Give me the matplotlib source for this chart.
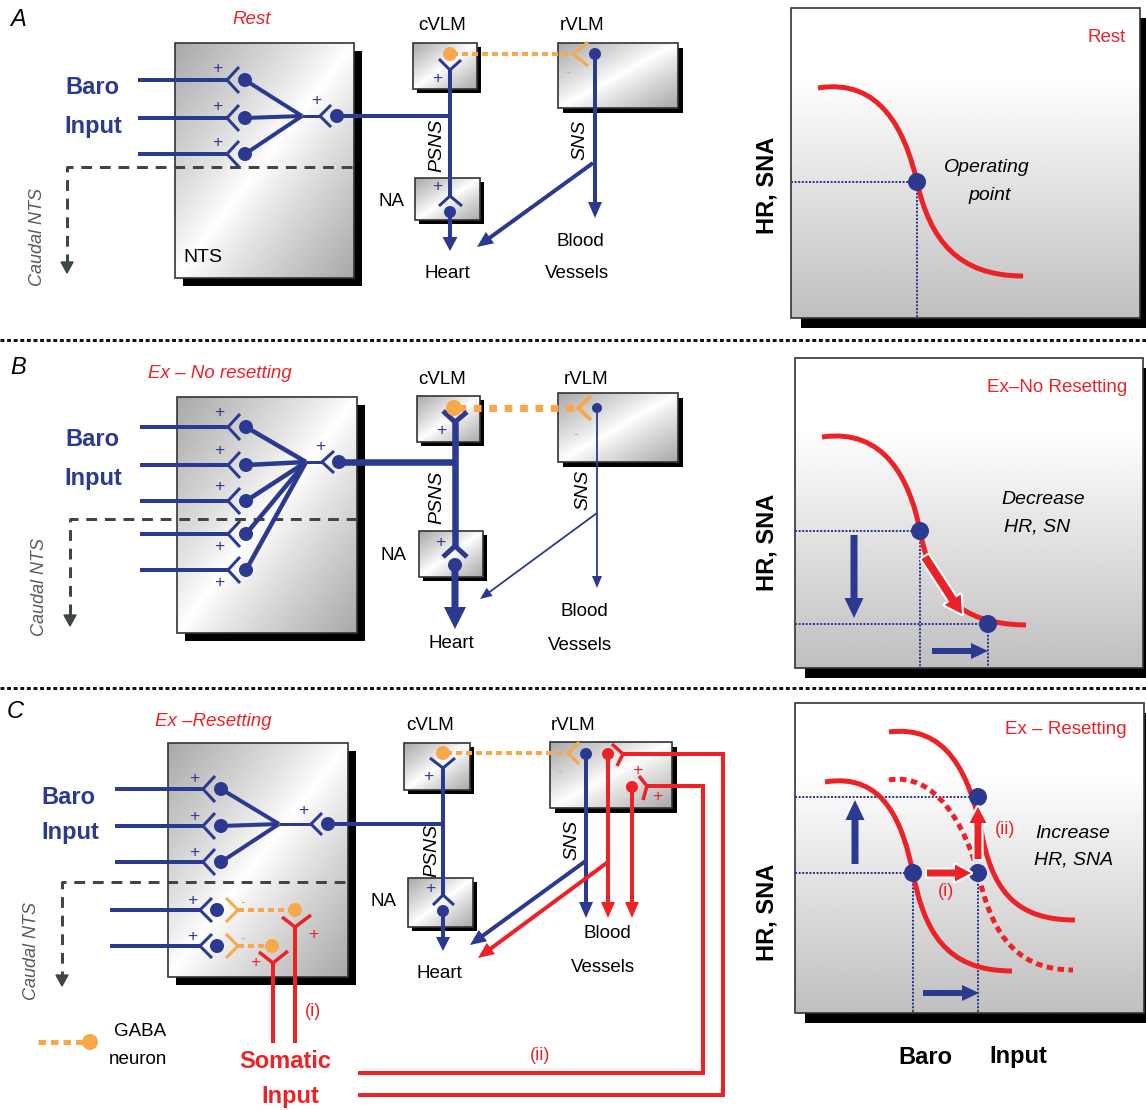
import numpy as np
import matplotlib
matplotlib.use('Agg')
import matplotlib.pyplot as plt
from matplotlib.patches import Rectangle, Circle, FancyArrowPatch, Polygon, PathPatch
from matplotlib.path import Path
import matplotlib.patheffects as pe

# ---------------- data ----------------
panel_letters = ['A', 'B', 'C']
scheme_titles = ['Rest', 'Ex – No resetting', 'Ex –Resetting']
graph_titles = ['Rest', 'Ex–No Resetting', 'Ex – Resetting']
y_label = 'HR, SNA'
x_labels = ['Baro', 'Input']
# baroreflex curves (bezier control points, pixel space of the figure)
curve_rest = [(818, 88), (880, 78), (905, 130), (917, 182), (930, 240), (958, 276), (1023, 276)]
curve_exnr = [(822, 437), (885, 428), (910, 480), (920, 531), (932, 590), (955, 624), (1026, 625)]
curve_c_rest = [(825, 782), (885, 772), (903, 825), (913, 873), (924, 930), (945, 971), (1012, 971)]
curve_c_reset = [(889, 732), (945, 725), (970, 770), (983, 840), (995, 895), (1020, 920), (1075, 920)]
curve_c_dash = [(889, 780), (935, 772), (965, 825), (978, 873), (990, 925), (1010, 970), (1073, 970)]
# operating points
op_rest = [(917, 182)]
op_exnr = [(920, 531), (988, 624)]
op_c = [(913, 873), (978, 873), (978, 797)]

BLUE = '#2b3990'
RED = '#ec2227'
ORANGE = '#f8a84b'
DGRAY = '#3e4747'
TS = 13.5

plt.rcParams['font.family'] = ['Liberation Sans', 'DejaVu Sans']

fig = plt.figure(figsize=(11.46, 11.10), dpi=100)
ax = fig.add_axes([0, 0, 1, 1])
ax.axis('off')


def px(v):
    return v * 0.72


def line(pts, color=BLUE, w=4, ls='-', z=3, cap='butt'):
    xs, ys = zip(*pts)
    ax.plot(xs, ys, color=color, lw=px(w), ls=ls, zorder=z,
            solid_capstyle=cap, dash_capstyle='butt', solid_joinstyle='miter')


def dot(x, y, r=7, color=BLUE, z=4):
    ax.add_patch(Circle((x, y), r, color=color, zorder=z, lw=0))


def syn(tip, a1, a2, color=BLUE, w=3, z=3):
    line([a1, tip, a2], color=color, w=w, z=z)


def grad_box(x0, y0, x1, y1, shadow=8, kind='diag'):
    ax.add_patch(Rectangle((x0 + shadow, y0 + shadow), x1 - x0, y1 - y0,
                           color='black', zorder=1, lw=0))
    n = 200
    X, Y = np.meshgrid(np.linspace(0, 1, n), np.linspace(0, 1, n))
    if kind == 'diag':
        t = (X + Y) / 2
        v = 1 - 0.34 * np.abs(2 * t - 1) ** 0.9
    else:
        v = np.where(Y < 0.22, 1.0, 1 - 0.25 * ((Y - 0.22) / 0.78))
    ax.imshow(v, cmap='gray', vmin=0, vmax=1, extent=(x0, x1, y1, y0),
              origin='upper', aspect='auto', zorder=1.5, interpolation='bilinear')
    ax.add_patch(Rectangle((x0, y0), x1 - x0, y1 - y0, fill=False,
                           ec='#333333', lw=1.2, zorder=2))


def arrow(p0, p1, color=BLUE, tail=4, hw=14, hl=14, outline=False, z=5):
    style = 'simple,tail_width=%f,head_width=%f,head_length=%f' % (px(tail), px(hw), px(hl))
    a = FancyArrowPatch(p0, p1, arrowstyle=style, color=color, lw=0, zorder=z,
                        shrinkA=0, shrinkB=0, mutation_scale=1)
    if outline:
        a.set_path_effects([pe.withStroke(linewidth=3, foreground='white')])
    ax.add_patch(a)


def bez(points, color=RED, w=5, ls='-', z=3):
    codes = [Path.MOVETO] + [Path.CURVE4] * (len(points) - 1)
    ax.add_patch(PathPatch(Path(points, codes), fill=False, ec=color, lw=px(w),
                           ls=ls, zorder=z, capstyle='butt'))


def txt(x, y, s, size=TS, color='black', style='normal', weight='normal', rot=0, ha='center'):
    ax.text(x, y, s, fontsize=size, color=color, style=style, weight=weight,
            rotation=rot, ha=ha, va='center', zorder=7)


def plus(x, y, color=BLUE, size=12.5):
    txt(x, y, '+', size=size, color=color)


def dotted(pts, w=2):
    line(pts, color=BLUE, w=w, ls=(0, (1, 0.8)), z=2.5)


def caudal(xr, y, x, ybot):
    line([(xr, y), (x, y), (x, ybot)], color=DGRAY, w=3, ls=(0, (3.6, 2.6)), z=2.6)
    ax.add_patch(Polygon([(x - 6, ybot), (x + 6, ybot), (x, ybot + 11)], color=DGRAY, zorder=3))


def caudal_label(x, y):
    txt(x, y, 'Caudal NTS', size=13, color='#5a5a5a', style='italic', rot=90)


def orange_dash(p0, p1, w=4):
    line([p0, p1], color=ORANGE, w=w, ls=(0, (1.5, 1)), z=3)


# ---------------- separators ----------------
for ys in (340, 688):
    line([(0, ys), (1146, ys)], color='#111111', w=3, ls=(0, (1.3, 0.9)), z=2)

# ================= Panel A =================
txt(18, 20, panel_letters[0], size=17, style='italic', ha='center')
txt(252, 20, scheme_titles[0], size=TS, color=RED, style='italic')
grad_box(175, 43, 354, 278, shadow=8)
txt(203, 258, 'NTS', size=14)
txt(92, 88, 'Baro', size=17, color=BLUE, weight='bold')
txt(93, 126, 'Input', size=17, color=BLUE, weight='bold')
for y in (80, 118, 154):
    line([(138, y), (227, y)], w=4)
    syn((227, y), (239, y - 13), (239, y + 13), w=3)
    dot(245, y, 7)
    plus(217, y - 11)
    line([(245, y), (302, 116)], w=4)
line([(302, 116), (320, 116)], w=3)
syn((320, 116), (331, 105), (331, 127), w=3)
plus(316, 101)
dot(337, 116, 7)
line([(337, 116), (452, 116)], w=4)
caudal(352, 167, 67, 262)
caudal_label(37, 237)

grad_box(413, 43, 477, 89, shadow=4)
txt(442, 25, 'cVLM')
orange_dash((452, 54), (573, 54), w=4)
dot(450, 54, 7, ORANGE)
syn((573, 54), (588, 42), (588, 66), color=ORANGE, w=3)
txt(568, 72, '-', size=11, color=ORANGE)
syn((450, 70), (439, 59), (461, 60), w=3)
plus(437, 78)
line([(450, 70), (450, 196)], w=4)
grad_box(415, 178, 480, 220, shadow=4)
syn((450, 196), (439, 206), (462, 206), w=3)
plus(437, 187)
dot(450, 212, 6)
arrow((450, 212), (450, 251), tail=4, hw=15, hl=14)
txt(392, 202, 'NA')
txt(447, 273, 'Heart')
txt(437, 145, 'PSNS', size=14, style='italic', rot=90)

grad_box(558, 43, 678, 108, shadow=5)
txt(582, 25, 'rVLM')
dot(595, 54, 6)
arrow((595, 54), (595, 218), tail=4, hw=14, hl=16)
arrow((593, 163), (477, 247), tail=4, hw=14, hl=16)
txt(580, 140, 'SNS', size=14, style='italic', rot=90)
txt(580, 241, 'Blood')
txt(577, 273, 'Vessels')

# graph A
grad_box(791, 8, 1140, 318, shadow=10, kind='vert')
bez(curve_rest, w=5)
x, y = op_rest[0]
dotted([(791, y), (x, y)])
dotted([(x, y), (x, 318)])
dot(x, y, 9)
txt(1107, 38, graph_titles[0], size=TS, color=RED)
txt(767, 185, y_label, size=17, weight='bold', rot=90)
txt(987, 168, 'Operating', size=14, style='italic')
txt(990, 195, 'point', size=14, style='italic')

# ================= Panel B =================
txt(18, 368, panel_letters[1], size=17, style='italic')
txt(220, 373, scheme_titles[1], size=TS, color=RED, style='italic')
grad_box(177, 397, 357, 633, shadow=8)
txt(92, 440, 'Baro', size=17, color=BLUE, weight='bold')
txt(93, 478, 'Input', size=17, color=BLUE, weight='bold')
for i, y in enumerate((427, 465, 501, 534, 570)):
    line([(140, y), (228, y)], w=4)
    syn((228, y), (240, y - 13), (240, y + 13), w=3)
    dot(246, y, 7)
    plus(219, y - 15 if i < 3 else y + 12)
    line([(246, y), (306, 462)], w=4.5)
line([(306, 462), (322, 462)], w=3)
syn((322, 462), (334, 451), (334, 473), w=3)
plus(320, 447)
dot(339, 462, 7)
line([(339, 462), (457, 462)], w=6.5)
caudal(357, 519, 70, 615)
caudal_label(40, 587)

grad_box(417, 396, 480, 442, shadow=4)
txt(442, 380, 'cVLM')
line([(458, 408), (578, 408)], color=ORANGE, w=7, ls=(0, (1.1, 1.1)), z=3)
dot(454, 408, 8, ORANGE)
syn((578, 408), (591, 396), (591, 420), color=ORANGE, w=4)
txt(576, 434, '-', size=11, color=ORANGE)
syn((455, 422), (443, 411), (467, 412), w=5)
plus(441, 430)
line([(455, 422), (455, 547)], w=6.5)
grad_box(419, 531, 483, 577, shadow=4)
syn((455, 546), (443, 557), (467, 557), w=5)
plus(440, 542)
dot(455, 565, 7)
arrow((455, 565), (455, 629), tail=7, hw=22, hl=22)
txt(393, 556, 'NA')
txt(451, 644, 'Heart')
txt(437, 497, 'PSNS', size=14, style='italic', rot=90)

grad_box(558, 393, 678, 462, shadow=5)
txt(586, 380, 'rVLM')
dot(597, 408, 5)
arrow((597, 408), (597, 588), tail=1.8, hw=10, hl=12)
arrow((597, 513), (480, 599), tail=1.8, hw=10, hl=12)
txt(583, 490, 'SNS', size=14, style='italic', rot=90)
txt(584, 612, 'Blood')
txt(580, 645, 'Vessels')

# graph B
grad_box(795, 358, 1143, 668, shadow=10, kind='vert')
bez(curve_exnr, w=5)
(x1, y1), (x2, y2) = op_exnr
dotted([(795, y1), (x1, y1)])
dotted([(x1, y1), (x1, 668)])
dotted([(795, y2), (x2, y2)])
dotted([(x2, y2), (x2, 668)])
arrow((925, 557), (962, 614), color=RED, tail=8, hw=19, hl=17, outline=True, z=4.5)
dot(x1, y1, 9)
dot(x2, y2, 9)
arrow((854, 535), (854, 618), tail=7, hw=19, hl=20)
arrow((932, 651), (988, 651), tail=6, hw=16, hl=17)
txt(1057, 387, graph_titles[1], size=TS, color=RED)
txt(767, 542, y_label, size=17, weight='bold', rot=90)
txt(1043, 500, 'Decrease', size=14, style='italic')
txt(1037, 527, 'HR, SN', size=14, style='italic')

# ================= Panel C =================
txt(15, 712, panel_letters[2], size=17, style='italic')
txt(213, 721, scheme_titles[2], size=TS, color=RED, style='italic')
grad_box(168, 743, 348, 977, shadow=8)
txt(68, 797, 'Baro', size=17, color=BLUE, weight='bold')
txt(70, 833, 'Input', size=17, color=BLUE, weight='bold')
for y in (789, 826, 862):
    line([(115, y), (203, y)], w=4)
    syn((203, y), (215, y - 13), (215, y + 13), w=3)
    dot(221, y, 7)
    plus(194, y - 10)
    line([(221, y), (279, 824)], w=4)
line([(279, 824), (311, 824)], w=3)
syn((311, 824), (322, 813), (322, 835), w=3)
plus(303, 811)
dot(328, 824, 7)
line([(328, 824), (443, 824)], w=4)
caudal(345, 882, 62, 975)
caudal_label(31, 951)
for y, xo in ((910, 295), (946, 272)):
    line([(110, y), (200, y)], w=4)
    syn((200, y), (212, y - 12), (212, y + 12), w=3)
    dot(217, y, 7)
    plus(192, y - 10)
    syn((238, y), (226, y - 12), (226, y + 12), color=ORANGE, w=3)
    txt(243, y - 8, '-', size=10, color=ORANGE)
    orange_dash((238, y), (xo - 4, y), w=4)
    dot(xo, y, 7, ORANGE)
# somatic red synapses in caudal NTS
syn((295, 927), (282, 917), (311, 915), color=RED, w=3.5)
line([(295, 927), (295, 1043)], color=RED, w=4)
plus(313, 935, color=RED)
syn((273, 963), (259, 952), (288, 951), color=RED, w=3.5)
line([(273, 963), (273, 1043)], color=RED, w=4)
plus(255, 962, color=RED)
txt(313, 1012, '(i)', size=13, color=RED)
# GABA legend
orange_dash((38, 1042), (86, 1042), w=5)
dot(90, 1042, 8, ORANGE)
txt(140, 1032, 'GABA')
txt(138, 1060, 'neuron')
txt(285, 1062, 'Somatic', size=17, color=RED, weight='bold')
txt(290, 1097, 'Input', size=17, color=RED, weight='bold')

grad_box(404, 743, 470, 790, shadow=4)
txt(430, 725, 'cVLM')
orange_dash((446, 753), (568, 753), w=4)
dot(443, 753, 7, ORANGE)
syn((568, 753), (579, 742), (579, 764), color=ORANGE, w=3)
txt(560, 771, '-', size=11, color=ORANGE)
syn((443, 768), (430, 758), (455, 758), w=3)
plus(428, 776)
line([(443, 768), (443, 895)], w=4)
grad_box(408, 878, 473, 927, shadow=4)
syn((443, 895), (433, 905), (454, 905), w=3)
plus(430, 888)
dot(443, 911, 6)
arrow((443, 911), (443, 951), tail=4, hw=14, hl=14)
txt(383, 902, 'NA')
txt(439, 973, 'Heart')
txt(432, 850, 'PSNS', size=14, style='italic', rot=90)

grad_box(550, 742, 672, 808, shadow=5)
txt(573, 725, 'rVLM')
dot(586, 754, 6)
arrow((586, 754), (586, 918), tail=4, hw=14, hl=16)
arrow((587, 860), (470, 945), tail=4, hw=14, hl=16)
dot(608, 754, 6, RED)
arrow((608, 754), (608, 918), color=RED, tail=4, hw=14, hl=16)
arrow((608, 862), (478, 958), color=RED, tail=4, hw=14, hl=16)
dot(632, 787, 6, RED)
arrow((632, 787), (632, 918), color=RED, tail=4, hw=14, hl=16)
# somatic pathway (ii) to rVLM
line([(358, 1095), (723, 1095), (723, 754), (623, 754)], color=RED, w=4)
syn((623, 754), (612, 744), (617, 766), color=RED, w=3.5)
line([(358, 1073), (703, 1073), (703, 786), (647, 786)], color=RED, w=4)
syn((647, 786), (639, 776), (643, 800), color=RED, w=3.5)
plus(637, 770, color=RED)
plus(657, 797, color=RED)
txt(540, 1055, '(ii)', size=13, color=RED)
txt(572, 840, 'SNS', size=14, style='italic', rot=90)
txt(607, 934, 'Blood')
txt(603, 967, 'Vessels')

# graph C
grad_box(795, 703, 1144, 1013, shadow=10, kind='vert')
bez(curve_c_rest, w=5)
bez(curve_c_reset, w=5)
bez(curve_c_dash, w=5, ls=(0, (1.3, 0.9)))
(a1, b1), (a2, b2), (a3, b3) = op_c
dotted([(795, b3), (a3, b3)])
dotted([(795, b1), (a1, b1)])
dotted([(a1, b1), (a1, 1013)])
dotted([(a2, b2), (a2, 1013)])
arrow((927, 873), (971, 873), color=RED, tail=7, hw=17, hl=16, outline=True, z=4.5)
arrow((978, 859), (978, 807), color=RED, tail=7, hw=17, hl=16, outline=True, z=4.5)
for (xx, yy) in op_c:
    dot(xx, yy, 9)
arrow((855, 864), (855, 800), tail=7, hw=19, hl=20)
arrow((923, 993), (979, 993), tail=6, hw=16, hl=17)
txt(946, 892, '(i)', size=13, color=RED)
txt(1005, 830, '(ii)', size=13, color=RED)
txt(1066, 730, graph_titles[2], size=TS, color=RED)
txt(767, 912, y_label, size=17, weight='bold', rot=90)
txt(1073, 833, 'Increase', size=14, style='italic')
txt(1074, 860, 'HR, SNA', size=14, style='italic')
txt(925, 1057, x_labels[0], size=17, weight='bold')
txt(1018, 1057, x_labels[1], size=17, weight='bold')

ax.set_xlim(0, 1146)
ax.set_ylim(1110, 0)
fig.savefig('out.png', dpi=100, facecolor='white')
